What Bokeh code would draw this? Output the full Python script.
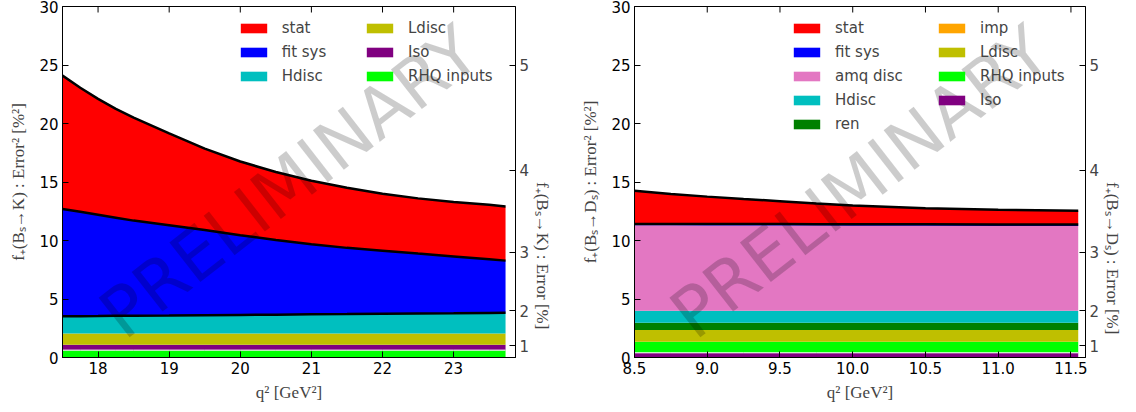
import math
from bokeh.plotting import figure
from bokeh.models import (ColumnDataSource, Range1d, LinearAxis, FixedTicker,
                          Legend, LegendItem, Label, NumeralTickFormatter)
from bokeh.transform import stack
from bokeh.layouts import row
from bokeh.embed import file_html
from bokeh.resources import INLINE

# ---------------- data: B_s -> K (left) ----------------
q2_K = [17.5, 17.75, 18.0, 18.25, 18.5, 19.0, 19.5, 20.0, 20.5, 21.0, 21.5, 22.0, 22.5, 23.0,
        23.5, 23.73]
K_rhq = [0.63] * 16
K_iso = [0.46] * 16
K_ldisc = [0.96] * 16
K_hdisc = [1.47, 1.48, 1.49, 1.51, 1.52, 1.54, 1.57, 1.59, 1.61, 1.64, 1.66, 1.69, 1.71, 1.73,
           1.76, 1.77]
K_fitsys = [9.18, 8.92, 8.66, 8.39, 8.13, 7.71, 7.28, 6.81, 6.39, 5.98, 5.66, 5.39, 5.12, 4.86,
            4.59, 4.46]
K_stat = [11.4, 10.6, 9.9, 9.3, 8.8, 7.85, 6.95, 6.3, 5.8, 5.43, 5.13, 4.87, 4.72, 4.66,
          4.65, 4.62]
K_xticks = [18, 19, 20, 21, 22, 23]

# ---------------- data: B_s -> D_s (right) ----------------
q2_D = [8.5, 8.75, 9.0, 9.25, 9.5, 9.75, 10.0, 10.5, 11.0, 11.55]
D_iso = [0.40] * 10
D_rhq = [0.94] * 10
D_ldisc = [1.01] * 10
D_imp = [0.0] * 10
D_ren = [0.62] * 10
D_hdisc = [1.03] * 10
D_amq = [7.30, 7.295, 7.29, 7.285, 7.28, 7.275, 7.27, 7.26, 7.25, 7.24]
D_fitsys = [0.12] * 10
D_stat = [2.83, 2.565, 2.34, 2.145, 1.96, 1.775, 1.61, 1.37, 1.25, 1.19]
D_xticks = [8.5, 9.0, 9.5, 10.0, 10.5, 11.0, 11.5]

y_ticks = [0, 5, 10, 15, 20, 25, 30]
err_ticks = [1, 2, 3, 4, 5]

COL = {"stat": "#ff0000", "fit sys": "#0000ff", "Hdisc": "#00bfbf", "Ldisc": "#bfbf00",
       "Iso": "#800080", "RHQ inputs": "#00ff00", "amq": "#e377c2", "ren": "#008000",
       "imp": "#ffa500"}

TICK_FONT = "DejaVu Sans"
TITLE_FONT = "Liberation Serif"


def make_fig(width, xr, xticks, fmt, bl, br, ylabel, rlabel):
    p = figure(width=width, height=407, output_backend="svg", toolbar_location=None,
               x_range=Range1d(*xr), y_range=Range1d(0, 30),
               min_border_left=bl, min_border_right=br, min_border_top=6, min_border_bottom=50)
    p.grid.visible = False
    p.outline_line_color = "black"
    p.background_fill_color = "white"
    p.border_fill_color = "white"
    xa = p.xaxis[0]
    xa.ticker = FixedTicker(ticks=xticks)
    if fmt:
        xa.formatter = NumeralTickFormatter(format=fmt)
    xa.axis_label = "q² [GeV²]"
    ya = p.yaxis[0]
    ya.ticker = FixedTicker(ticks=y_ticks)
    ya.axis_label = ylabel
    for ax in (xa, ya):
        ax.major_tick_in = 6
        ax.major_tick_out = 0
        ax.minor_tick_in = 0
        ax.minor_tick_out = 0
        ax.major_label_text_font = TICK_FONT
        ax.major_label_text_font_size = "15px"
        ax.major_label_text_color = "black"
        ax.axis_label_text_font = TITLE_FONT
        ax.axis_label_text_font_size = "17px"
        ax.axis_label_text_font_style = "normal"
    xa.major_label_standoff = 4
    xa.axis_label_standoff = 6
    ya.major_label_standoff = 4
    ya.axis_label_standoff = 8
    # top-edge tick marks (inward), drawn at the upper end of the y range
    p.scatter(x=xticks, y=[y_ticks[-1]] * len(xticks), marker="dash", angle=math.pi / 2,
              size=12, line_color="black", line_width=1)
    # right axis: sqrt scale (error %)
    ra = LinearAxis(ticker=FixedTicker(ticks=[v * v for v in err_ticks]),
                    major_label_overrides={v * v: str(v) for v in err_ticks},
                    major_tick_in=6, major_tick_out=0, minor_tick_in=0, minor_tick_out=0,
                    major_label_text_font=TICK_FONT, major_label_text_font_size="15px",
                    major_label_standoff=4, axis_label=rlabel,
                    axis_label_text_font=TITLE_FONT, axis_label_text_font_size="17px",
                    axis_label_text_font_style="normal", axis_label_standoff=10)
    try:
        ra.axis_label_orientation = -math.pi / 2
    except Exception:
        pass
    p.add_layout(ra, "right")
    return p


def add_legend(p, items, x, y):
    leg = Legend(items=items, location=(x, y), orientation="vertical",
                 glyph_width=33, glyph_height=12, label_height=20, label_standoff=12,
                 spacing=4, padding=0, margin=0, border_line_color=None,
                 background_fill_alpha=0, label_text_font=TICK_FONT,
                 label_text_font_size="15px")
    p.add_layout(leg, "center")


def watermark(p, x, y):
    p.add_layout(Label(x=x, y=y, text="PRELIMINARY", angle=math.radians(38),
                       text_align="center", text_baseline="middle",
                       text_font=TICK_FONT, text_font_size="69px",
                       text_color="black", text_alpha=0.2))


# ---------------- left figure ----------------
pK = make_fig(572, (17.5, 23.87), K_xticks, None, 62, 57,
              "f₊(Bₛ→K) : Error² [%²]", "f₊(Bₛ→K) : Error [%]")
srcK = ColumnDataSource(dict(x=q2_K, rhq=K_rhq, iso=K_iso, ldisc=K_ldisc, hdisc=K_hdisc,
                             fitsys=K_fitsys, stat=K_stat))
namesK = ["rhq", "iso", "ldisc", "hdisc", "fitsys", "stat"]
colsK = [COL["RHQ inputs"], COL["Iso"], COL["Ldisc"], COL["Hdisc"], COL["fit sys"], COL["stat"]]
rK = dict(zip(namesK, pK.varea_stack(stackers=namesK, x="x", color=colsK, source=srcK)))
pK.line(x="x", y=stack("rhq"), source=srcK, line_color="white", line_width=1)
for top in (["rhq", "iso", "ldisc", "hdisc"], namesK[:5], namesK):
    pK.line(x="x", y=stack(*top), source=srcK, line_color="black", line_width=2.5)
add_legend(pK, [LegendItem(label="stat", renderers=[rK["stat"]]),
                LegendItem(label="fit sys", renderers=[rK["fitsys"]]),
                LegendItem(label="Hdisc", renderers=[rK["hdisc"]])], 174.7, 271.4)
add_legend(pK, [LegendItem(label="Ldisc", renderers=[rK["ldisc"]]),
                LegendItem(label="Iso", renderers=[rK["iso"]]),
                LegendItem(label="RHQ inputs", renderers=[rK["rhq"]])], 301, 271.4)
watermark(pK, 20.69, 15.0)

# ---------------- right figure ----------------
pD = make_fig(562, (8.5, 11.6), D_xticks, "0.0", 62, 47,
              "f₊(Bₛ→Dₛ) : Error² [%²]", "f₊(Bₛ→Dₛ) : Error [%]")
srcD = ColumnDataSource(dict(x=q2_D, iso=D_iso, rhq=D_rhq, ldisc=D_ldisc, imp=D_imp,
                             ren=D_ren, hdisc=D_hdisc, amq=D_amq, fitsys=D_fitsys,
                             stat=D_stat))
namesD = ["iso", "rhq", "ldisc", "imp", "ren", "hdisc", "amq", "fitsys", "stat"]
colsD = [COL["Iso"], COL["RHQ inputs"], COL["Ldisc"], COL["imp"], COL["ren"], COL["Hdisc"],
         COL["amq"], COL["fit sys"], COL["stat"]]
rD = dict(zip(namesD, pD.varea_stack(stackers=namesD, x="x", color=colsD, source=srcD)))
pD.line(x="x", y=stack("iso"), source=srcD, line_color="white", line_width=1)
for top in (namesD[:8], namesD):
    pD.line(x="x", y=stack(*top), source=srcD, line_color="black", line_width=2.5)
add_legend(pD, [LegendItem(label="stat", renderers=[rD["stat"]]),
                LegendItem(label="fit sys", renderers=[rD["fitsys"]]),
                LegendItem(label="amq disc", renderers=[rD["amq"]]),
                LegendItem(label="Hdisc", renderers=[rD["hdisc"]]),
                LegendItem(label="ren", renderers=[rD["ren"]])], 156, 222.8)
add_legend(pD, [LegendItem(label="imp", renderers=[rD["imp"]]),
                LegendItem(label="Ldisc", renderers=[rD["ldisc"]]),
                LegendItem(label="RHQ inputs", renderers=[rD["rhq"]]),
                LegendItem(label="Iso", renderers=[rD["iso"]])], 301, 247.1)
watermark(pD, 10.05, 15.0)

layout = row(pK, pD)
open("out.html", "w").write(file_html(layout, INLINE))
